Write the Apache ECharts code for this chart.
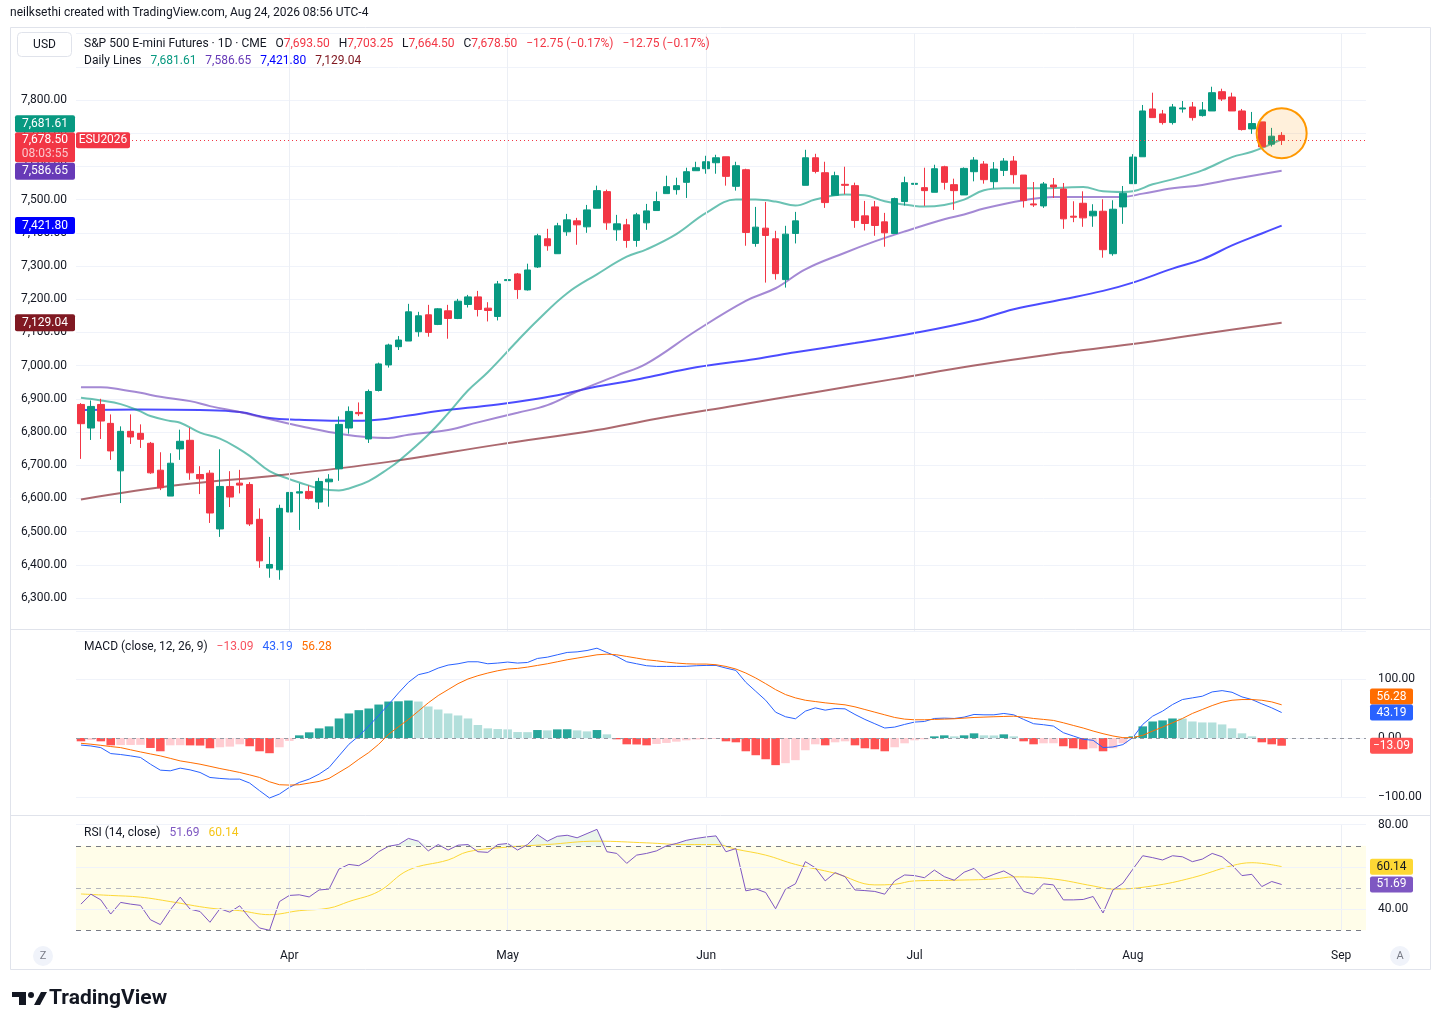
<!DOCTYPE html>
<html>
<head>
<meta charset="utf-8">
<script src="https://cdn.jsdelivr.net/npm/echarts@6/dist/echarts.min.js"></script>
<style>
  html, body { margin: 0; padding: 0; background: #fff; }
  #chart { width: 1441px; height: 1030px; }
</style>
</head>
<body>
<div id="chart"></div>
<script>
// daily candles: [open, high, low, close]
const candles = [
  [6883,6887,6719,6825],[6812,6895,6776,6877],[6883,6900,6779,6833],[6826,6853,6716,6743],
  [6683,6817,6586,6802],[6802,6853,6764,6785],[6796,6823,6752,6778],[6766,6770,6674,6677],
  [6685,6739,6625,6632],[6607,6736,6607,6706],[6749,6807,6716,6772],[6775,6813,6656,6677],
  [6672,6697,6613,6659],[6676,6685,6526,6556],[6508,6748,6484,6636],[6636,6682,6574,6604],
  [6646,6686,6615,6640],[6642,6649,6517,6523],[6537,6570,6391,6412],[6390,6484,6361,6401],
  [6385,6581,6355,6570],[6559,6653,6559,6618],[6616,6645,6505,6620],[6621,6639,6597,6600],
  [6589,6662,6568,6651],[6650,6673,6575,6658],[6689,6847,6653,6823],[6812,6877,6795,6862],
  [6859,6889,6848,6855],[6779,6928,6767,6922],[6925,7009,6922,7005],[7002,7066,6994,7062],
  [7057,7089,7047,7077],[7074,7186,7074,7162],[7102,7162,7087,7150],[7153,7183,7087,7100],
  [7124,7173,7122,7171],[7165,7183,7081,7142],[7142,7201,7140,7194],[7184,7213,7175,7207],
  [7207,7225,7148,7169],[7173,7191,7133,7166],[7148,7255,7136,7246],[7256,7300,7228,7259],
  [7276,7279,7201,7229],[7228,7307,7226,7288],[7297,7397,7294,7391],[7382,7412,7346,7361],
  [7337,7430,7337,7421],[7403,7457,7391,7439],[7436,7445,7364,7424],[7418,7484,7400,7469],
  [7474,7542,7474,7527],[7524,7530,7409,7430],[7409,7454,7376,7427],[7424,7442,7355,7377],
  [7377,7460,7358,7454],[7430,7487,7409,7466],[7467,7524,7467,7494],[7518,7572,7518,7539],
  [7530,7566,7515,7542],[7552,7596,7505,7584],[7587,7614,7587,7596],[7593,7632,7578,7614],
  [7611,7635,7578,7626],[7629,7629,7542,7570],[7540,7614,7527,7602],[7590,7593,7361,7401],
  [7368,7478,7358,7417],[7414,7493,7250,7392],[7382,7406,7259,7277],[7259,7421,7235,7396],
  [7398,7463,7368,7436],[7543,7650,7543,7626],[7626,7638,7579,7585],[7581,7614,7475,7491],
  [7513,7584,7513,7572],[7546,7599,7516,7543],[7542,7551,7415,7437],[7451,7496,7407,7428],
  [7478,7496,7391,7422],[7433,7460,7358,7400],[7398,7506,7398,7503],[7494,7569,7482,7551],
  [7546,7581,7509,7549],[7536,7596,7481,7527],[7522,7605,7522,7593],[7599,7602,7530,7552],
  [7545,7563,7469,7527],[7514,7597,7514,7594],[7584,7628,7555,7619],[7607,7616,7548,7560],
  [7554,7613,7534,7592],[7588,7625,7571,7616],[7616,7631,7548,7575],[7574,7574,7476,7497],
  [7487,7553,7478,7484],[7481,7553,7475,7547],[7544,7565,7505,7538],[7532,7550,7412,7442],
  [7450,7495,7432,7447],[7489,7525,7418,7445],[7451,7486,7418,7465],[7465,7501,7325,7349],
  [7337,7498,7331,7471],[7478,7541,7427,7519],[7548,7637,7548,7628],[7629,7785,7629,7767],
  [7773,7822,7747,7747],[7758,7770,7726,7732],[7732,7788,7726,7779],[7773,7797,7762,7776],
  [7779,7794,7738,7747],[7753,7794,7750,7770],[7767,7840,7767,7822],[7825,7834,7797,7803],
  [7809,7822,7767,7767],[7767,7773,7708,7711],[7713,7764,7698,7729],[7734,7734,7659,7659],
  [7667,7716,7660,7691],[7693.5,7703.25,7664.5,7678.5]
];

// moving average lines, sampled as [bar index, value]
const lineTeal = [[0,6903],[2,6895],[4,6884],[6,6862],[7,6848],[9,6833],[10,6828],[12,6798],[14,6780],
  [16,6748],[17,6728],[19,6682],[21,6658],[22,6648],[24,6630],[26,6624],[27,6630],[29,6652],[31,6690],
  [32,6712],[35,6792],[37,6856],[39,6925],[41,6980],[44,7075],[46,7136],[49,7218],[52,7275],[55,7328],
  [57,7350],[60,7396],[63,7460],[66,7500],[68,7500],[70,7494],[72,7482],[74,7500],[77,7515],[79,7513],
  [81,7495],[84,7481],[85,7479],[87,7484],[89,7500],[91,7528],[93,7534],[96,7534],[99,7536],[101,7538],
  [103,7525],[105,7523],[106,7525],[108,7546],[110,7561],[113,7588],[116,7628],[118,7644],[121,7681.61]];
const linePurple = [[0,6935],[2,6935],[4,6928],[6,6918],[8,6906],[11,6893],[13,6878],[16,6860],[18,6846],
  [21,6825],[23,6812],[26,6795],[29,6784],[31,6782],[33,6792],[37,6806],[40,6829],[44,6858],[47,6881],
  [50,6922],[54,6970],[57,7006],[62,7105],[67,7195],[70,7233],[73,7290],[77,7340],[80,7374],[83,7404],
  [87,7441],[89,7455],[91,7473],[95,7498],[98,7508],[102,7508],[105,7508],[107,7518],[110,7534],
  [113,7544],[116,7561],[121,7586.65]];
const lineBlue = [[0,6866],[6,6868],[12,6866],[16,6860],[19,6842],[22,6837],[26,6834],[29,6835],[33,6850],
  [36,6863],[42,6883],[46,6900],[49,6917],[52,6937],[55,6952],[57,6964],[62,6995],[68,7020],[72,7040],
  [78,7068],[84,7098],[90,7135],[94,7170],[99,7200],[103,7225],[106,7250],[110,7292],[113,7320],
  [116,7362],[119,7398],[121,7421.8]];
const lineBrown = [[0,6597],[10,6641],[20,6670],[31,6710],[42,6762],[52,6806],[58,6840],[66,6880],
  [74,6920],[82,6960],[90,7000],[98,7035],[106,7065],[114,7100],[121,7129.04]];

// MACD (12, 26, 9)
const macdHist = [-5.6,-3.4,-5.6,-12.4,-12,-11.8,-11.6,-16.9,-22.5,-12.4,-12.2,-12.5,-12.8,-17.4,-15.7,-14.6,
  -10.7,-14,-22.5,-25.8,-15.7,-5,4.5,9.6,16.3,19.7,33.1,41.6,47.2,50,56.7,61.8,62.2,63.5,61.8,53.4,48.3,
  41.6,38.2,33.1,22,16.3,15.2,14.6,10.1,9.9,13.5,12.9,14.6,14.8,12.9,11.2,13.5,6.2,-2.2,-10.7,-11,-12.4,
  -10.1,-8.4,-6.2,-3.9,-2.5,-2,-1.5,-5.6,-7.3,-22.5,-29.2,-36,-46,-42.7,-37.6,-20.8,-10.7,-12.4,-7.3,-5.6,
  -12.4,-17.4,-19.1,-22.5,-15.7,-9,-3.9,-2.2,2.8,4.5,2.8,4.5,7.9,4.5,4.3,6.2,2.8,-5.6,-10.7,-9,-8.9,-14,
  -17.4,-19.1,-17.4,-22.5,-17.4,-9,2.8,19.7,28,29.8,33.1,33,28,26.4,26.3,23,16.3,7.9,2.8,-7.3,-10.7,-13.09];
const macdLine = [-12,-13.5,-16.3,-26.4,-28,-30.3,-33,-44.4,-54.5,-55.6,-51.1,-54,-58.4,-66.9,-68.5,-69.7,
  -69.7,-76.4,-89.3,-101.7,-95,-83.7,-75.3,-69.7,-61.2,-50,-30.3,-10.7,3.4,20.2,38.2,56.7,76.4,94.4,107.3,
  111.2,118.5,123.6,125.8,129.2,129.2,125.8,127,128.7,127,128,134.8,137,141,145,146,148.3,152.2,145,138.2,
  129.2,125.8,122.5,121.3,121.3,121.3,121.5,122.5,123,123,118.5,114.6,94.4,79.2,64,43.8,36,32.6,45.5,51.1,
  47.2,50,49.4,39.9,31.5,24.2,16.9,18.5,23,27,28,33.1,33.7,33.1,35.4,39.9,39.3,39.3,41.6,39.3,31.5,24.2,
  22.5,20.2,9,3.4,-2.2,-3.9,-16.3,-15.2,-11.2,0.6,23,37,45.5,56.7,65.2,68,70.8,78.1,80.3,77.5,69.7,65.2,
  57.9,51.1,43.19];
const signalLine = [-9,-10.5,-12.4,-14.5,-16.3,-20,-23.6,-27,-30.3,-34.5,-38.8,-41.5,-44.4,-48,-51.7,-55,
  -58.4,-62.5,-66.9,-74.2,-79.2,-79.8,-79.2,-76.4,-73.6,-68.5,-58.4,-48.3,-36,-24.7,-10.7,6.2,19.1,31.5,
  45.5,59.6,71.9,82,92.1,100,105.6,110.1,114,116.9,118,120.2,123,125.8,129.2,132.6,135.4,138.2,141,142.1,
  141,138.2,135.4,132.6,130.9,128.7,127,125.8,125.3,125.3,124.2,121.3,116.9,110.1,101.7,92.1,82,73.6,68,
  64,61.8,59.6,57.9,56.2,52.8,48.3,43.8,39.3,34.8,32,30.9,30.9,31.5,32,32.6,33.7,34.8,35.4,36,36.5,37,
  35.4,33.1,31.5,29.8,25.8,21.3,16.9,11.8,7.3,3.4,0.6,0.6,4.5,11.8,18.5,25.8,33.1,41.6,48.3,55,60.7,64,
  65.2,65.2,64,61.2,56.28];

// RSI (14) and its moving average
const rsi = [42.4,47.1,44.4,37.7,43.2,42.4,41.8,35,32.7,39.7,45.7,40,38.9,33.8,40.2,38.6,41.6,35.8,31.1,30,
  43.6,46.5,46.8,45.8,49.1,49.5,59,61.2,60.6,63.3,67.2,69.8,70.6,73.5,72.2,67.6,70.6,68,70.3,70.6,67.2,
  66.9,70.6,71.1,68,70.6,75.3,72.2,74.5,75,73.8,75.8,77.8,67.2,66.4,61.7,65.6,66.4,67.6,70,71.1,72.6,
  73.5,74.2,74.7,67.2,68.7,48.7,49.6,47.9,40.2,49.5,52,62.5,59.6,53.4,57.3,55.4,49.1,48.8,48.4,47.1,53.4,
  56.2,55.9,54.9,58.5,55.4,53.7,57.5,59.3,54.6,56.5,58.1,55.4,48.4,47.1,52,51.5,44.4,44.4,44.6,46,38.2,
  49.1,52.3,58.9,65.3,64.4,63.3,65.3,64.8,62.5,63.7,66.4,64.8,60.9,55.9,56.5,50.7,53.1,51.69];
const rsiMa = [[0,47.2],[3,46.5],[6,45.7],[9,43.6],[13,40.5],[16,39.3],[19,37.4],[22,39.3],[25,40.5],
  [27,43.6],[30,48.4],[33,58.5],[37,63.3],[39,67.2],[43,69.4],[47,70.6],[52,72.2],[57,71.4],[61,70.6],
  [64,70.6],[66,68.4],[69,65.6],[72,61.2],[76,57],[80,51.5],[82,51.8],[84,53.4],[88,53.7],[92,54.3],
  [94,55.3],[98,54.3],[102,51],[104,49.5],[108,51],[112,54.9],[116,60.6],[118,62],[121,60.14]];

// trading sessions (CME holidays skipped), a few empty sessions on the right
const holidays = ['2026-05-25', '2026-06-19', '2026-07-03'];
const monthNames = ['Jan','Feb','Mar','Apr','May','Jun','Jul','Aug','Sep','Oct','Nov','Dec'];
const dates = [];
for (let d = new Date(Date.UTC(2026, 2, 3)); dates.length < 130; d.setUTCDate(d.getUTCDate() + 1)) {
  const s = d.toISOString().slice(0, 10);
  const wd = d.getUTCDay();
  if (wd === 0 || wd === 6 || holidays.includes(s)) continue;
  dates.push(s);
}
const monthStarts = dates.map((s, i) => (i > 0 && s.slice(5, 7) !== dates[i - 1].slice(5, 7)) ? i : -1).filter(i => i >= 0);
const monthSet = new Set(monthStarts);
const monthLines = monthStarts.map(i => ({ xAxis: dates[i] }));

const FONT = 'Roboto, "Noto Sans", sans-serif';
const fmt = v => (v < 0 ? '\u2212' : '') + Math.abs(v).toLocaleString('en-US', { minimumFractionDigits: 2, maximumFractionDigits: 2 });
const gridLine = { color: '#f0f3fa', width: 1 };
const monthLineStyle = { color: '#eceff5', width: 1, type: 'solid' };
const rt = (color) => ({ color: color, fontSize: 12, fontWeight: 'normal', fontFamily: FONT });

const chart = echarts.init(document.getElementById('chart'), null, { renderer: 'canvas' });

const baseX = (gridIndex, showLabels) => ({
  type: 'category', gridIndex: gridIndex, data: dates, boundaryGap: true,
  axisLine: { show: false }, axisTick: { show: false }, splitLine: { show: false },
  axisLabel: showLabels ? {
    show: true, interval: (i) => monthSet.has(i), margin: 20,
    formatter: v => monthNames[+v.slice(5, 7) - 1], color: '#131722', fontSize: 12, fontFamily: FONT
  } : { show: false }
});

const option = {
  animation: false,
  backgroundColor: '#fff',
  textStyle: { fontFamily: FONT },
  title: [
    { text: 'neilksethi created with TradingView.com, Aug 24, 2026 08:56 UTC-4', left: 10, top: 7, padding: 0,
      textStyle: { fontSize: 12, fontWeight: 'normal', color: '#131722', fontFamily: FONT } },
    { text: '{n|S&P 500 E-mini Futures \u00b7 1D \u00b7 CME}  {n|O}{r|7,693.50}  {n|H}{r|7,703.25}  {n|L}{r|7,664.50}  {n|C}{r|7,678.50}  {r|\u221212.75 (\u22120.17%)}  {r|\u221212.75 (\u22120.17%)}',
      left: 84, top: 35, padding: 0,
      textStyle: { fontWeight: 'normal', rich: { n: rt('#131722'), r: rt('#f23645') } } },
    { text: '{n|Daily Lines}  {t|7,681.61}  {p|7,586.65}  {b|7,421.80}  {d|7,129.04}',
      left: 84, top: 52, padding: 0,
      textStyle: { fontWeight: 'normal', rich: {
        n: rt('#131722'), t: rt('#089981'), p: rt('#673ab7'), b: rt('#0000ff'), d: rt('#801922') } } },
    { text: '{n|MACD (close, 12, 26, 9)}  {r|\u221213.09}  {b|43.19}  {o|56.28}',
      left: 84, top: 638, padding: 0,
      textStyle: { fontWeight: 'normal', rich: {
        n: rt('#131722'), r: rt('#f7525f'), b: rt('#2962ff'), o: rt('#ff6d00') } } },
    { text: '{n|RSI (14, close)}  {p|51.69}  {y|60.14}',
      left: 84, top: 824, padding: 0,
      textStyle: { fontWeight: 'normal', rich: { n: rt('#131722'), p: rt('#7e57c2'), y: rt('#f5c518') } } }
  ],
  grid: [
    { left: 76, width: 1290, top: 33.6, height: 597.6 },
    { left: 76, width: 1290, top: 679, height: 118 },
    { left: 76, width: 1290, top: 824.7, height: 105.6 }
  ],
  xAxis: [baseX(0, false), baseX(1, false), baseX(2, true)],
  yAxis: [
    { type: 'value', gridIndex: 0, position: 'left', min: 6200, max: 8000, interval: 100,
      axisLine: { show: false }, axisTick: { show: false }, splitLine: { lineStyle: gridLine },
      axisLabel: { color: '#131722', fontSize: 12, margin: 9, fontFamily: FONT,
        formatter: v => (v >= 6300 && v <= 7800) ? fmt(v) : '' } },
    { type: 'value', gridIndex: 1, position: 'right', min: -100, max: 100, interval: 100,
      axisLine: { show: false }, axisTick: { show: false }, splitLine: { lineStyle: gridLine },
      axisLabel: { color: '#131722', fontSize: 12, margin: 12, align: 'left', fontFamily: FONT, formatter: v => fmt(v) } },
    { type: 'value', gridIndex: 2, position: 'right', min: 30, max: 80, interval: 10,
      axisLine: { show: false }, axisTick: { show: false }, splitLine: { show: false },
      axisLabel: { color: '#131722', fontSize: 12, margin: 12, align: 'left', fontFamily: FONT,
        formatter: v => (v === 80 || v === 40) ? fmt(v) : '' } }
  ],
  series: [
    {
      type: 'candlestick', name: 'ESU2026', xAxisIndex: 0, yAxisIndex: 0, barWidth: '70%',
      data: candles.map(c => [c[0], c[3], c[2], c[1]]),
      itemStyle: { color: '#089981', color0: '#f23645', borderColor: '#089981', borderColor0: '#f23645', borderWidth: 1 },
      markLine: {
        silent: true, symbol: ['none', 'none'], label: { show: false },
        data: monthLines.map(m => Object.assign({ lineStyle: monthLineStyle }, m)).concat([
          { yAxis: 7678.5, lineStyle: { color: '#f23645', type: [1, 3], width: 1 } }
        ])
      },
      markPoint: {
        silent: true,
        data: [{ coord: [dates[121], 7700], symbol: 'circle', symbolSize: 50,
          itemStyle: { color: 'rgba(255,152,0,0.14)', borderColor: '#ff9800', borderWidth: 2 }, label: { show: false } }]
      }
    },
    { type: 'line', xAxisIndex: 0, yAxisIndex: 0, data: lineBrown, smooth: 0.4, symbol: 'none', z: 1,
      lineStyle: { color: 'rgba(128,25,34,0.65)', width: 2 } },
    { type: 'line', xAxisIndex: 0, yAxisIndex: 0, data: lineBlue, smooth: 0.4, symbol: 'none', z: 1,
      lineStyle: { color: 'rgba(0,0,255,0.7)', width: 2 } },
    { type: 'line', xAxisIndex: 0, yAxisIndex: 0, data: linePurple, smooth: 0.4, symbol: 'none', z: 1,
      lineStyle: { color: 'rgba(103,58,183,0.6)', width: 2 } },
    { type: 'line', xAxisIndex: 0, yAxisIndex: 0, data: lineTeal, smooth: 0.4, symbol: 'none', z: 1,
      lineStyle: { color: 'rgba(8,153,129,0.6)', width: 2 } },

    {
      type: 'bar', xAxisIndex: 1, yAxisIndex: 1, data: macdHist, barWidth: '86%', clip: false,
      itemStyle: {
        color: p => {
          const v = macdHist[p.dataIndex];
          const prev = p.dataIndex > 0 ? macdHist[p.dataIndex - 1] : 0;
          if (v >= 0) return v >= prev ? '#26a69a' : '#b2dfdb';
          return v < prev ? '#ff5252' : '#ffcdd2';
        }
      },
      markLine: {
        silent: true, symbol: ['none', 'none'], label: { show: false },
        data: monthLines.map(m => Object.assign({ lineStyle: monthLineStyle }, m)).concat([
          { yAxis: 0, lineStyle: { color: '#9598a1', type: [4, 4], width: 1 } }
        ])
      }
    },
    { type: 'line', xAxisIndex: 1, yAxisIndex: 1, data: macdLine, symbol: 'none', clip: false, z: 3,
      lineStyle: { color: '#2962ff', width: 1 } },
    { type: 'line', xAxisIndex: 1, yAxisIndex: 1, data: signalLine, symbol: 'none', clip: false, z: 3,
      lineStyle: { color: '#ff6d00', width: 1 } },

    {
      type: 'line', xAxisIndex: 2, yAxisIndex: 2, data: rsi.map(v => Math.max(v, 70)), symbol: 'none', z: 1,
      lineStyle: { width: 0 }, areaStyle: { origin: 70, color: 'rgba(76,175,80,0.16)' },
      markArea: { silent: true, itemStyle: { color: '#fffde9' }, data: [[{ yAxis: 30 }, { yAxis: 70 }]] }
    },
    {
      type: 'line', xAxisIndex: 2, yAxisIndex: 2, data: rsi, symbol: 'none', z: 4,
      lineStyle: { color: '#7e57c2', width: 1 },
      markLine: {
        silent: true, symbol: ['none', 'none'], label: { show: false },
        data: monthLines.map(m => Object.assign({ lineStyle: monthLineStyle }, m)).concat([
          { yAxis: 80, lineStyle: { color: '#f0f3fa', type: 'solid', width: 1 } },
          { yAxis: 60, lineStyle: { color: '#f0f3fa', type: 'solid', width: 1 } },
          { yAxis: 40, lineStyle: { color: '#f0f3fa', type: 'solid', width: 1 } },
          { yAxis: 70, lineStyle: { color: '#787b86', type: [5, 5], width: 1 } },
          { yAxis: 50, lineStyle: { color: '#b2b5be', type: [5, 5], width: 1 } },
          { yAxis: 30, lineStyle: { color: '#787b86', type: [5, 5], width: 1 } }
        ])
      }
    },
    { type: 'line', xAxisIndex: 2, yAxisIndex: 2, data: rsiMa, smooth: 0.4, symbol: 'none', z: 3,
      lineStyle: { color: '#fdd835', width: 1 } }
  ]
};

chart.setOption(option);

// price tags and frame, placed through the axes' own scales
const yPix = (axis, v) => chart.convertToPixel({ yAxisIndex: axis }, v);
const tagFont = '12px ' + FONT;
function tag(x, yc, w, h, bg, txt, col) {
  return [
    { type: 'rect', z: 100, shape: { x: x, y: yc - h / 2, width: w, height: h, r: 2 }, style: { fill: bg } },
    { type: 'text', z: 101, x: x + w / 2, y: yc, style: { text: txt, fill: col || '#fff', font: tagFont, align: 'center', verticalAlign: 'middle' } }
  ];
}

const yClose = yPix(0, 7678.5);
const redTop = yClose - 8;
const yBlueMacd = yPix(1, 43.19);

const els = [
  { type: 'rect', z: 90, shape: { x: 10.5, y: 27.5, width: 1420, height: 942 }, style: { fill: 'none', stroke: '#e0e3eb', lineWidth: 1 } },
  { type: 'line', z: 90, shape: { x1: 10, y1: 629.5, x2: 1431, y2: 629.5 }, style: { stroke: '#e0e3eb', lineWidth: 1 } },
  { type: 'line', z: 90, shape: { x1: 10, y1: 815.5, x2: 1431, y2: 815.5 }, style: { stroke: '#e0e3eb', lineWidth: 1 } },
  // currency box
  { type: 'rect', z: 100, shape: { x: 17.5, y: 32.5, width: 54, height: 24, r: 4 }, style: { fill: '#fff', stroke: '#e0e3eb', lineWidth: 1 } },
  { type: 'text', z: 101, x: 44.5, y: 44.5, style: { text: 'USD', fill: '#131722', font: tagFont, align: 'center', verticalAlign: 'middle' } },
  // close price tag with countdown
  { type: 'rect', z: 100, shape: { x: 15, y: redTop, width: 60, height: 30, r: 2 }, style: { fill: '#f23645' } },
  { type: 'text', z: 101, x: 45, y: redTop + 8, style: { text: '7,678.50', fill: '#fff', font: tagFont, align: 'center', verticalAlign: 'middle' } },
  { type: 'text', z: 101, x: 45, y: redTop + 22, style: { text: '08:03:55', fill: 'rgba(255,255,255,0.72)', font: tagFont, align: 'center', verticalAlign: 'middle' } },
  { type: 'rect', z: 100, shape: { x: 76, y: redTop, width: 54, height: 16, r: 2 }, style: { fill: '#f23645' } },
  { type: 'text', z: 101, x: 103, y: redTop + 8, style: { text: 'ESU2026', fill: '#fff', font: tagFont, align: 'center', verticalAlign: 'middle' } },
  // bottom corner buttons
  { type: 'circle', z: 100, shape: { cx: 43, cy: 956, r: 10 }, style: { fill: '#f0f3fa' } },
  { type: 'text', z: 101, x: 43, y: 956, style: { text: 'Z', fill: '#787b86', font: '11px ' + FONT, align: 'center', verticalAlign: 'middle' } },
  { type: 'circle', z: 100, shape: { cx: 1400, cy: 956, r: 10 }, style: { fill: '#f0f3fa' } },
  { type: 'text', z: 101, x: 1400, y: 956, style: { text: 'A', fill: '#787b86', font: '11px ' + FONT, align: 'center', verticalAlign: 'middle' } },
  // TradingView logo
  { type: 'rect', z: 100, shape: { x: 12, y: 992, width: 14, height: 5 }, style: { fill: '#131722' } },
  { type: 'rect', z: 100, shape: { x: 19, y: 992, width: 7, height: 13 }, style: { fill: '#131722' } },
  { type: 'circle', z: 100, shape: { cx: 31, cy: 995, r: 3 }, style: { fill: '#131722' } },
  { type: 'polygon', z: 100, shape: { points: [[34, 1005], [40, 1005], [47, 992], [41, 992]] }, style: { fill: '#131722' } },
  { type: 'text', z: 101, x: 49, y: 999, style: { text: 'TradingView', fill: '#131722', font: 'bold 21px ' + FONT, align: 'left', verticalAlign: 'middle' } }
].concat(
  tag(15, redTop - 8.5, 60, 17, '#089981', '7,681.61'),
  tag(15, yPix(0, 7586.65) + 0.5, 60, 17, '#673ab7', '7,586.65'),
  tag(15, yPix(0, 7421.8), 60, 17, '#0000ff', '7,421.80'),
  tag(15, yPix(0, 7129.04), 60, 17, '#801922', '7,129.04'),
  tag(1370, yBlueMacd - 16, 43, 16, '#ff6d00', '56.28'),
  tag(1370, yBlueMacd, 43, 16, '#2962ff', '43.19'),
  tag(1370, yPix(1, -13.09), 43, 16, '#ff5252', '\u221213.09'),
  tag(1370, yPix(2, 60.14), 43, 16, '#fdd835', '60.14', '#131722'),
  tag(1370, yPix(2, 51.69), 43, 16, '#7e57c2', '51.69')
);

chart.setOption({ graphic: els });
</script>
</body>
</html>
